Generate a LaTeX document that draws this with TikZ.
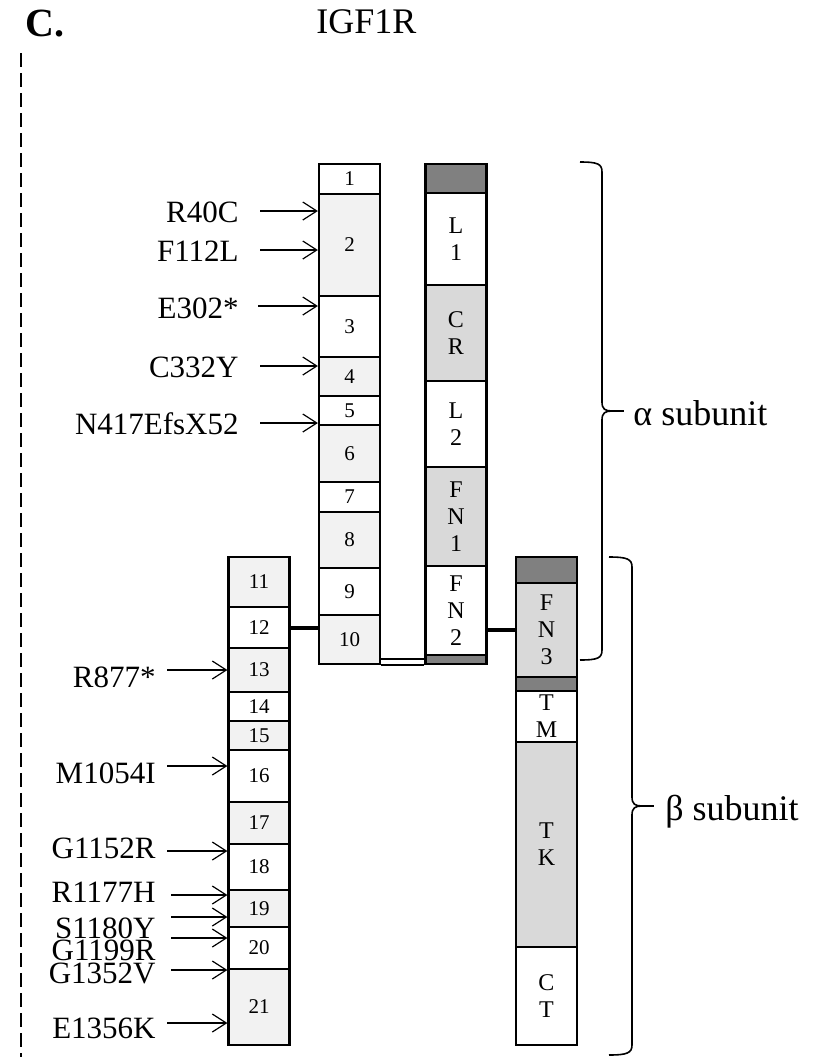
\documentclass[tikz,border=0pt]{standalone}
\usepackage{fontspec}
\setmainfont{Liberation Serif}
\usetikzlibrary{arrows.meta}
\definecolor{exlight}{gray}{0.95}
\definecolor{domgray}{gray}{0.85}
\definecolor{capgray}{gray}{0.5}
\tikzset{
  cellbox/.style={draw, line width=1.1pt, inner sep=0pt, align=center},
  exonbox/.style={cellbox, minimum width=30.5pt, font=\fontsize{10.5}{11}\selectfont},
  domainbox/.style={cellbox, minimum width=30.5pt, font=\fontsize{12}{13.5}\selectfont},
  mutlabel/.style={font=\fontsize{15.5}{16}\selectfont, inner sep=0pt},
  hit/.style={-{Straight Barb[length=7pt,width=9pt]}, line width=0.6pt},
  link/.style={line width=2pt},
  bracket/.style={line width=0.8pt},
  sublabel/.style={font=\fontsize{18}{18}\selectfont, inner sep=0pt, anchor=base west}
}
\begin{document}
\begin{tikzpicture}[x=0.5pt, y=-0.5pt]
  \useasboundingbox (0,0) rectangle (821,1057);
  % Panel letter, title and separator
  \node[inner sep=0pt, anchor=base west, font=\fontsize{20}{20}\selectfont\bfseries] (panel) at (25,36) {C.};
  \node[inner sep=0pt, anchor=base west, font=\fontsize{18}{18}\selectfont] (title) at (316,33) {IGF1R};
  \draw[line width=0.6pt, dash pattern=on 7pt off 3pt] (21,53) -- (21,1057);
  % Exons 1-10
  \foreach \n/\t/\b/\f in {1/164/194/white, 2/194/296/exlight, 3/296/357/white,
      4/357/396/exlight, 5/396/425/white, 6/425/482/exlight, 7/482/512/white,
      8/512/568/exlight, 9/568/615/white, 10/615/664/exlight}{
    \pgfmathsetmacro{\h}{(\b-\t)*0.5}
    \node[exonbox, fill=\f, minimum height=\h pt] (ex\n) at (349.5,{(\t+\b)/2}) {\n};
  }
  % Exons 11-21
  \foreach \n/\t/\b/\f in {11/557/607/exlight, 12/607/648/white, 13/648/692/exlight,
      14/692/721/white, 15/721/750/exlight, 16/750/802/white, 17/802/844/exlight,
      18/844/890/white, 19/890/927/exlight, 20/927/969/white, 21/969/1045/exlight}{
    \pgfmathsetmacro{\h}{(\b-\t)*0.5}
    \node[exonbox, fill=\f, minimum height=\h pt] (ex\n) at (259,{(\t+\b)/2}) {\n};
  }
  % Alpha chain domains
  \foreach \n/\t/\b/\f/\txt in {capA/164/193/capgray/{}, L1/193/285/white/{L\\1},
      CR/285/381/domgray/{C\\R}, L2/381/467/white/{L\\2}, FN1/467/566/domgray/{F\\N\\1},
      FN2/566/655/white/{F\\N\\2}, capB/655/664/capgray/{}}{
    \pgfmathsetmacro{\h}{(\b-\t)*0.5}
    \node[domainbox, fill=\f, minimum height=\h pt] (d\n) at (456,{(\t+\b)/2}) {\txt};
  }
  % Beta chain domains
  \foreach \n/\t/\b/\f/\txt in {capC/557/583/capgray/{}, FN3/583/677/domgray/{F\\N\\3},
      capD/677/691/capgray/{}, TM/691/742/white/{T\\M}, TK/742/947/domgray/{T\\K},
      CT/947/1045/white/{C\\T}}{
    \pgfmathsetmacro{\h}{(\b-\t)*0.5}
    \node[domainbox, fill=\f, minimum height=\h pt] (d\n) at (546.5,{(\t+\b)/2}) {\txt};
  }
  % Links between the columns
  \draw[link] (ex12.east) -- (ex12.east -| ex10.west);
  \draw[link] (dFN3.west) -- (dFN3.west -| dFN2.east);
  \draw[line width=1.3pt] (ex10.south east) -- (dcapB.south west);
  \draw[line width=1.3pt] ([yshift=3pt]ex10.south east) -- ([yshift=3pt]dcapB.south west);
  % Mutations
  \foreach \id/\txt/\bl/\ay/\tg/\sx/\lx in {
      r40/R40C/222/211/ex2/260/239, f112/F112L/261/250/ex2/260/239,
      e302/E302*/318/306/ex3/258/239, c332/C332Y/377/366/ex4/260/239,
      n417/N417EfsX52/434/423/ex5/260/239,
      r877/R877*/687/670/ex13/167/156, m1054/M1054I/783/766/ex16/167/156,
      g1152/G1152R/858/851/ex18/167/156, r1177/R1177H/902/895/ex19/171/156,
      s1180/S1180Y/938/917/ex19/171/156, g1199/G1199R/960/938/ex20/171/156,
      g1352/G1352V/983/970/ex21/171/156, e1356/E1356K/1038/1023/ex21/167/156}{
    \node[mutlabel, anchor=base east] (\id) at (\lx,\bl) {\txt};
    \coordinate (s\id) at (\sx,\ay);
    \draw[hit] (s\id) -- (\tg.west |- s\id);
  }
  % Subunit brackets
  \draw[bracket] (580,162) .. controls (598,162) and (602,164) .. (602,172) -- (602,402)
    .. controls (602,409) and (605,411) .. (612,411)
    .. controls (605,411) and (602,413) .. (602,420) -- (602,650)
    .. controls (602,658) and (598,660) .. (580,660);
  \draw[bracket] (612,411) -- (624,411);
  \node[sublabel] (alpha) at (633,425) {α subunit};
  \draw[bracket] (609,557) .. controls (627,557) and (632,559) .. (632,567) -- (632,797)
    .. controls (632,804) and (635,806) .. (642,806)
    .. controls (635,806) and (632,808) .. (632,815) -- (632,1045)
    .. controls (632,1053) and (627,1055) .. (609,1055);
  \draw[bracket] (642,806) -- (654,806);
  \node[sublabel] (beta) at (665,820) {β subunit};
\end{tikzpicture}
\end{document}
